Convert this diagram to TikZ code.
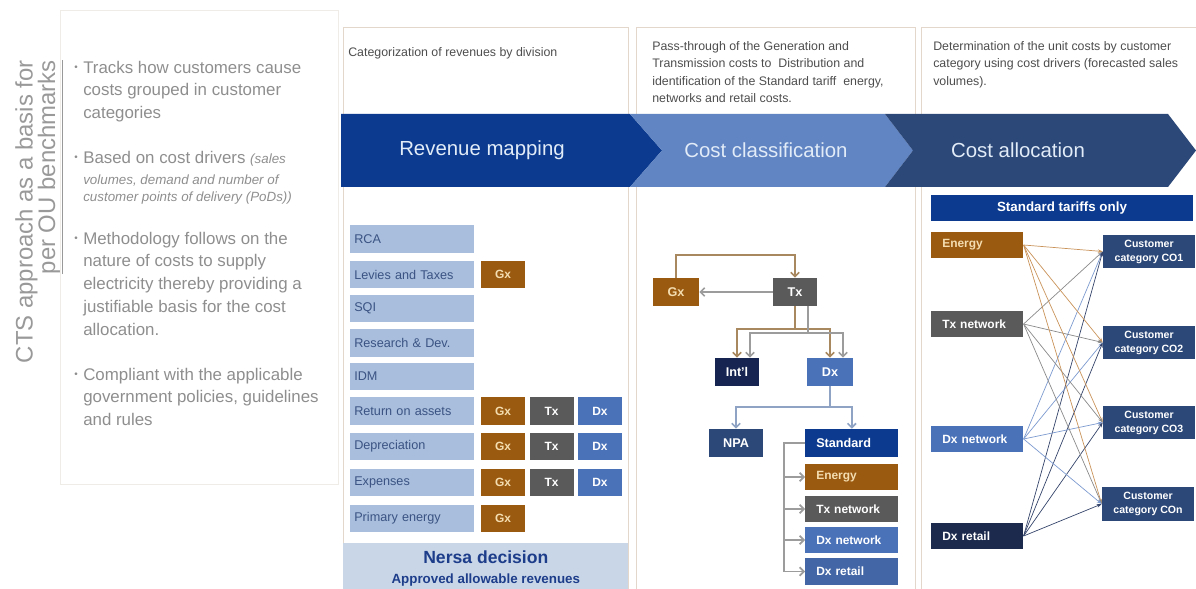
\documentclass[tikz,border=0pt]{standalone}
\usepackage{fontspec}
\setmainfont{Liberation Sans}
\usepackage{tikz}
\usetikzlibrary{arrows.meta,positioning}

\definecolor{revblue}{HTML}{0B3A8F}
\definecolor{clsblue}{HTML}{6184C2}
\definecolor{slate}{HTML}{2C4878}
\definecolor{gxbrown}{HTML}{9A5A10}
\definecolor{txgray}{HTML}{5A5A5A}
\definecolor{dxblue}{HTML}{4A72B9}
\definecolor{intlnavy}{HTML}{152450}
\definecolor{retnavy}{HTML}{1C2B4D}
\definecolor{labfill}{HTML}{A9BEDC}
\definecolor{labtext}{HTML}{3A5383}
\definecolor{nersafill}{HTML}{C9D6E8}
\definecolor{nersatext}{HTML}{1D3D8A}
\definecolor{framebeige}{HTML}{E3D7CB}
\definecolor{panelline}{HTML}{EFEBE7}
\definecolor{softgray}{HTML}{8E8E8E}
\definecolor{desctext}{HTML}{4D4D4D}
\definecolor{bandtext}{HTML}{E2ECF8}
\definecolor{gxtext}{HTML}{F4DDB0}
\definecolor{brownline}{HTML}{A8885F}
\definecolor{grayline}{HTML}{9C9C9C}
\definecolor{blueline}{HTML}{8FA4C4}
\definecolor{enline}{HTML}{C9935A}
\definecolor{txline}{HTML}{8A8A8A}
\definecolor{dxline}{HTML}{7D9BD0}
\definecolor{retline}{HTML}{34446A}

\newcommand\drvfont{\itshape\fontsize{9.5}{12}\selectfont}

\begin{document}
\begin{tikzpicture}[x=0.025cm, y=-0.025cm,
	frame/.style={draw=framebeige, line width=0.6pt},
	desc/.style={anchor=north west, align=left, inner sep=0pt, text=desctext, font=\fontsize{8.8}{12.4}\selectfont},
	band/.style={text=bandtext, font=\fontsize{14.5}{16}\selectfont},
	lab/.style={anchor=west, fill=labfill, text=labtext, text width=2.9cm, align=left, inner xsep=0.1cm, inner ysep=0pt, minimum height=0.675cm, font=\fontsize{9}{10}\selectfont},
	tag/.style={minimum width=1.1cm, minimum height=0.675cm, inner sep=0pt, text=white, font=\bfseries\fontsize{8.5}{10}\selectfont},
	gxtag/.style={tag, fill=gxbrown, text=gxtext},
	txtag/.style={tag, fill=txgray},
	dxtag/.style={tag, fill=dxblue},
	unit/.style={minimum width=1.15cm, minimum height=0.7cm, inner sep=0pt, text=white, font=\bfseries\fontsize{9}{10}\selectfont},
	stack/.style={anchor=west, text width=1.775cm, align=left, inner xsep=0.275cm, inner ysep=0pt, minimum height=0.65cm, text=white, font=\bfseries\fontsize{8.5}{10}\selectfont},
	driver/.style={stack, text width=1.75cm},
	category/.style={fill=slate, text=white, minimum width=2.3cm, minimum height=0.825cm, inner sep=0pt, align=center, font=\bfseries\fontsize{7.5}{10}\selectfont},
	flow/.style={line width=1.2pt, -{Straight Barb[length=3pt,width=6pt]}},
	share/.style={line width=0.5pt, -{Stealth[length=3.5pt,width=2.5pt]}},
	point/.style={text=softgray, inner sep=0pt, font=\fontsize{7}{8}\selectfont},
	bullet/.style={anchor=north west, align=left, inner sep=0pt, text=softgray, font=\fontsize{12}{16.3}\selectfont}]

	\useasboundingbox (0,0) rectangle (1196,589);

	% left panel
	\draw[panelline, line width=0.6pt] (60,10) rectangle (338,484);
	\node[rotate=90, anchor=north east, align=right, inner sep=0pt, text=softgray!90, font=\fontsize{17}{16}\selectfont] (cts) at (15,60) {CTS approach as a basis for\\\underline{per OU benchmarks}};

	\node[point] (dot1) at (76,68) {\textbullet};
	\node[bullet] (tracks) at (83,60.5) {Tracks how customers cause\\costs grouped in customer\\categories};
	\node[point] (dot2) at (76,158) {\textbullet};
	\node[bullet] (drivers) at (83,150.5) {Based on cost drivers {\drvfont(sales}\\[-1pt]{\drvfont volumes, demand and number of}\\[-4.5pt]{\drvfont customer points of delivery (PoDs))}};
	\node[point] (dot3) at (76,239) {\textbullet};
	\node[bullet] (method) at (83,231.5) {Methodology follows on the\\nature of costs to supply\\electricity thereby providing a\\justifiable basis for the cost\\allocation.};
	\node[point] (dot4) at (76,375) {\textbullet};
	\node[bullet] (compliant) at (83,367.5) {Compliant with the applicable\\government policies, guidelines\\and rules};

	% column frames
	\draw[frame] (343,27) rectangle (628,600);
	\draw[frame] (636,27) rectangle (915,600);
	\draw[frame] (921,27) rectangle (1210,600);

	\node[desc] (revdesc) at (348,47) {Categorization of revenues by division};
	\node[desc] (clsdesc) at (652,41) {Pass-through of the Generation and\\Transmission costs to~ Distribution and\\identification of the Standard tariff~ energy,\\networks and retail costs.};
	\node[desc] (alcdesc) at (933,41) {Determination of the unit costs by customer\\category using cost drivers (forecasted sales\\volumes).};

	% process band
	\fill[revblue] (341,114) -- (630,114) -- (662,150.5) -- (630,187) -- (341,187) -- cycle;
	\fill[clsblue] (630,114) -- (885,114) -- (913,150.5) -- (885,187) -- (630,187) -- (662,150.5) -- cycle;
	\fill[slate] (885,114) -- (1168,114) -- (1196,150.5) -- (1168,187) -- (885,187) -- (913,150.5) -- cycle;
	\node[band] (revenue) at (482,150) {Revenue mapping};
	\node[band] (classification) at (766,150) {Cost classification};
	\node[band] (allocation) at (1018,150) {Cost allocation};

	% revenue mapping
	\node[lab] (rca) at (350,239) {RCA};
	\node[lab] (levies) at (350,274.5) {Levies and Taxes};
	\node[lab] (sqi) at (350,308.5) {SQI};
	\node[lab] (research) at (350,343) {Research \& Dev.};
	\node[lab] (idm) at (350,376.5) {IDM};
	\node[lab] (return) at (350,411) {Return on assets};
	\node[lab] (deprec) at (350,446.5) {Depreciation};
	\node[lab] (expenses) at (350,482.5) {Expenses};
	\node[lab] (primary) at (350,518.5) {Primary energy};

	\node[gxtag] (leviesgx) at (503,274.5) {Gx};
	\node[gxtag] (returngx) at (503,411) {Gx};
	\node[txtag] (returntx) at (551.5,411) {Tx};
	\node[dxtag] (returndx) at (600,411) {Dx};
	\node[gxtag] (deprecgx) at (503,446.5) {Gx};
	\node[txtag] (deprectx) at (551.5,446.5) {Tx};
	\node[dxtag] (deprecdx) at (600,446.5) {Dx};
	\node[gxtag] (expensesgx) at (503,482.5) {Gx};
	\node[txtag] (expensestx) at (551.5,482.5) {Tx};
	\node[dxtag] (expensesdx) at (600,482.5) {Dx};
	\node[gxtag] (primarygx) at (503,518.5) {Gx};

	\node[fill=nersafill, text=nersatext, anchor=north west, minimum width=7.125cm, minimum height=1.25cm, inner sep=0pt, align=center, font=\bfseries\fontsize{9.5}{14.6}\selectfont] (nersa) at (343,543) {{\fontsize{12.5}{14}\selectfont Nersa decision}\\Approved allowable revenues};

	% cost classification
	\node[unit, fill=gxbrown, text=gxtext] (gx) at (676,292) {Gx};
	\node[unit, fill=txgray, minimum width=1.1cm] (tx) at (795,292) {Tx};
	\node[unit, fill=intlnavy, minimum width=1.1cm] (intl) at (737,372) {Int'l};
	\node[unit, fill=dxblue] (dx) at (830,372) {Dx};
	\node[unit, fill=slate, minimum width=1.35cm] (npa) at (736,443) {NPA};
	\node[stack, fill=revblue, minimum height=0.7cm, font=\bfseries\fontsize{9}{10}\selectfont] (std) at (805,443) {Standard};
	\node[stack, fill=gxbrown, text=gxtext] (energy) at (805,477) {Energy};
	\node[stack, fill=txgray] (txnet) at (805,509) {Tx network};
	\node[stack, fill=dxblue] (dxnet) at (805,540) {Dx network};
	\node[stack, fill=dxblue!90!black] (dxret) at (805,571.5) {Dx retail};

	\draw[flow, brownline] (gx.north) -- ++(0,-23) -| (tx.north);
	\draw[flow, grayline] (tx.west) to (gx.east);
	\draw[flow, brownline] (tx.south) -- ++(0,23) -| (intl.north);
	\draw[flow, brownline] (tx.south) -- ++(0,23) -| (dx.north);
	\draw[flow, grayline] ([xshift=0.325cm]tx.south) -- ++(0,27) -| ([xshift=0.325cm]intl.north);
	\draw[flow, grayline] ([xshift=0.325cm]tx.south) -- ++(0,27) -| ([xshift=0.325cm]dx.north);
	\draw[flow, blueline] (dx.south) -- ++(0,21) -| (npa.north);
	\draw[flow, blueline] (dx.south) -- ++(0,21) -| (std.north);
	\draw[flow, grayline] (std.west) -- ++(-21,0) |- (energy.west);
	\draw[flow, grayline] (std.west) -- ++(-21,0) |- (txnet.west);
	\draw[flow, grayline] (std.west) -- ++(-21,0) |- (dxnet.west);
	\draw[flow, grayline] (std.west) -- ++(-21,0) |- (dxret.west);

	% cost allocation
	\node[fill=revblue, text=white, minimum width=6.55cm, minimum height=0.65cm, inner sep=0pt, font=\bfseries\fontsize{9.5}{10}\selectfont] (stdonly) at (1062,208) {Standard tariffs only};

	\node[driver, fill=gxbrown, text=gxtext] (aen) at (931,245) {Energy};
	\node[driver, fill=txgray] (atx) at (931,324) {Tx network};
	\node[driver, fill=dxblue] (adxn) at (931,439) {Dx network};
	\node[driver, fill=retnavy] (adxr) at (931,536) {Dx retail};

	\node[category] (co1) at (1149,251.5) {Customer\\category CO1};
	\node[category] (co2) at (1149,342.5) {Customer\\category CO2};
	\node[category] (co3) at (1149,422.5) {Customer\\category CO3};
	\node[category] (con) at (1148,504) {Customer\\category COn};

	\foreach \cat in {co1,co2,co3,con} {
		\draw[share, enline] (aen.east) to (\cat.west);
		\draw[share, txline] (atx.east) to (\cat.west);
		\draw[share, dxline] (adxn.east) to (\cat.west);
		\draw[share, retline] (adxr.east) to (\cat.west);
	}
\end{tikzpicture}
\end{document}
